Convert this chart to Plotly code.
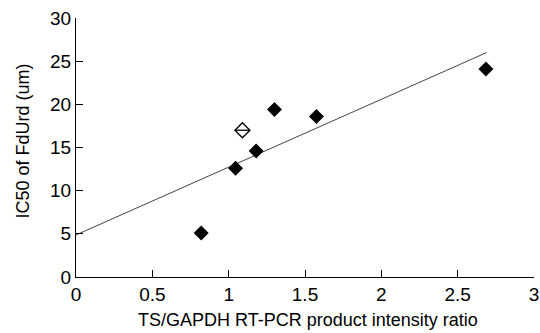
import plotly.graph_objects as go

x_filled = [0.82, 1.045, 1.18, 1.30, 1.575, 2.685]
y_filled = [5.1, 12.6, 14.6, 19.4, 18.6, 24.1]
x_open = [1.09]
y_open = [17.0]
fit_x = [0.0, 2.69]
fit_y = [4.87, 26.0]
x_title = "TS/GAPDH RT-PCR product intensity ratio"
y_title = "IC50 of FdUrd (um)"

font = "Liberation Sans, Arial, sans-serif"
fig = go.Figure()
fig.add_trace(go.Scatter(x=fit_x, y=fit_y, mode="lines",
                         line=dict(color="#444", width=1), showlegend=False))
fig.add_trace(go.Scatter(x=x_filled, y=y_filled, mode="markers",
                         marker=dict(symbol="diamond", size=11.5, color="black",
                                     line=dict(width=0)), showlegend=False))
fig.add_trace(go.Scatter(x=x_open, y=y_open, mode="markers",
                         marker=dict(symbol="diamond-open", size=11.5, color="black",
                                     line=dict(width=1.3)), showlegend=False))
fig.add_trace(go.Scatter(x=x_open, y=y_open, mode="markers",
                         marker=dict(symbol="line-ew", size=11, color="black",
                                     line=dict(width=1.3, color="black")), showlegend=False))

fig.add_annotation(text=x_title, xref="paper", yref="paper", x=0.5, y=0,
                   xanchor="center", yanchor="middle", yshift=-43, xshift=3,
                   showarrow=False, font=dict(size=18))
fig.add_annotation(text=y_title, xref="paper", yref="paper", x=0, y=0.5,
                   xanchor="center", yanchor="middle", xshift=-54, yshift=6,
                   textangle=-90, showarrow=False, font=dict(size=18))

fig.update_layout(
    width=540, height=333,
    margin=dict(l=76, r=6, t=18, b=56, autoexpand=False),
    paper_bgcolor="white", plot_bgcolor="white",
    font=dict(family=font, size=19, color="black"),
    xaxis=dict(range=[0, 3], tickvals=[0, 0.5, 1, 1.5, 2, 2.5, 3],
               ticktext=["0", "0.5", "1", "1.5", "2", "2.5", "3"],
               showline=True, linecolor="black", linewidth=1,
               ticks="inside", ticklen=7, tickcolor="black",
               showgrid=False, zeroline=False, automargin=False,
               ticklabeloverflow="allow"),
    yaxis=dict(range=[0, 30], tickvals=[0, 5, 10, 15, 20, 25, 30],
               showline=True, linecolor="black", linewidth=1,
               ticks="inside", ticklen=7, tickcolor="black",
               showgrid=False, zeroline=False, automargin=False),
)
fig.write_html("out.html")
